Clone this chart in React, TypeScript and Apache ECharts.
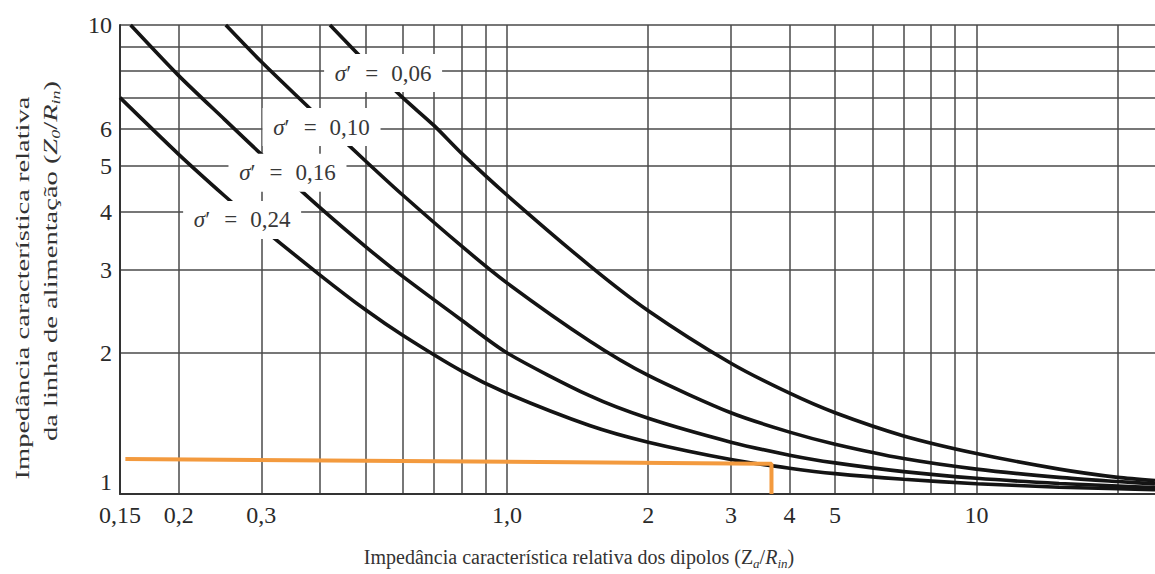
import React, { useEffect, useRef } from "react";
import * as echarts from "echarts";

// ---- data ----
const s06X = [0.42, 0.5, 0.6, 0.7, 0.8, 1, 1.5, 2, 3, 4, 5, 7, 10, 15, 20, 24];
const s06Y = [10, 8.35, 7.0, 6.1, 5.33, 4.34, 3.07, 2.46, 1.9, 1.64, 1.49, 1.33, 1.22, 1.13, 1.085, 1.068];

const s10X = [0.252, 0.3, 0.4, 0.5, 0.6, 0.8, 1, 1.5, 2, 3, 4, 5, 7, 10, 15, 20, 24];
const s10Y = [10, 8.35, 6.33, 5.13, 4.34, 3.38, 2.82, 2.12, 1.79, 1.49, 1.355, 1.277, 1.19, 1.13, 1.085, 1.063, 1.051];

const s16X = [0.158, 0.2, 0.25, 0.3, 0.4, 0.5, 0.6, 0.8, 1, 1.5, 2, 3, 4, 5, 7, 10, 15, 20, 24];
const s16Y = [10, 7.8, 6.3, 5.3, 4.08, 3.37, 2.91, 2.35, 2.0, 1.62, 1.45, 1.29, 1.21, 1.165, 1.116, 1.08, 1.053, 1.04, 1.032];

const s24X = [0.15, 0.2, 0.25, 0.3, 0.4, 0.5, 0.6, 0.8, 1, 1.5, 2, 3, 4, 5, 7, 10, 15, 20, 24];
const s24Y = [7.0, 5.3, 4.33, 3.7, 2.93, 2.47, 2.18, 1.83, 1.64, 1.4, 1.29, 1.185, 1.135, 1.105, 1.075, 1.052, 1.034, 1.026, 1.021];

const curveLabels = ["0,06", "0,10", "0,16", "0,24"];
const curveLabelX = [0.545, 0.403, 0.341, 0.273];
const curveLabelY = [7.9, 6.06, 4.84, 3.84];

const orangeX = [0.154, 3.66, 3.66];
const orangeY = [1.188, 1.16, 1.0];

const xTickValues = [0.15, 0.2, 0.3, 1, 2, 3, 4, 5, 10];
const xTickLabels = ["0,15", "0,2", "0,3", "1,0", "2", "3", "4", "5", "10"];
const xGridValues = [0.2, 0.3, 0.4, 0.5, 0.6, 0.7, 0.8, 0.9, 1, 2, 3, 4, 5, 6, 7, 8, 9, 10, 20];

const yTickValues = [1, 2, 3, 4, 5, 6, 10];
const yTickLabels = ["1", "2", "3", "4", "5", "6", "10"];
const yGridValues = [2, 3, 4, 5, 6, 7, 8, 9, 10];

const xMin = 0.15;
const xMax = 24;
const yMin = 1;
const yMax = 10;

const FONT = "'Liberation Serif', 'DejaVu Serif', serif";

function zip(xs: number[], ys: number[]) {
  return xs.map((x, i) => [x, ys[i]]);
}

export default function App() {
  const ref = useRef<HTMLDivElement>(null);

  useEffect(() => {
    if (!ref.current) return;
    const chart = echarts.init(ref.current, undefined, { renderer: "svg" });

    const curveStyle = { color: "#141414", width: 3.6 };
    const curves = [
      zip(s06X, s06Y),
      zip(s10X, s10Y),
      zip(s16X, s16Y),
      zip(s24X, s24Y),
    ].map((d, i) => ({
      type: "line",
      name: "σ′ = " + curveLabels[i],
      data: d,
      showSymbol: false,
      symbol: "none",
      smooth: 0.25,
      lineStyle: curveStyle,
      silent: true,
      z: 3,
    }));

    const txt = { fontFamily: FONT, fill: "#333" };
    const lbl = { fontFamily: FONT, fontSize: 23, color: "#383838" };

    const option: any = {
      animation: false,
      backgroundColor: "#ffffff",
      grid: {
        left: 120,
        right: 0,
        top: 25,
        bottom: 80,
        containLabel: false,
        outerBoundsMode: "none",
      },
      xAxis: {
        type: "log",
        logBase: 10,
        min: xMin,
        max: xMax,
        axisLine: { show: true, onZero: false, lineStyle: { color: "#333", width: 2 } },
        axisTick: { show: false, customValues: xGridValues },
        splitLine: { show: true, lineStyle: { color: "#4a4a4a", width: 1.5 } },
        minorSplitLine: { show: false },
        axisLabel: {
          customValues: xTickValues,
          formatter: (v: number) => {
            const i = xTickValues.findIndex((t) => Math.abs(t - v) < 1e-6);
            return i >= 0 ? xTickLabels[i] : "";
          },
          fontFamily: FONT,
          fontSize: 24,
          color: "#2a2a2a",
          margin: 9,
          showMinLabel: true,
          showMaxLabel: true,
          hideOverlap: false,
        },
      },
      yAxis: {
        type: "log",
        logBase: 10,
        min: yMin,
        max: yMax,
        axisLine: { show: true, onZero: false, lineStyle: { color: "#333", width: 2 } },
        axisTick: { show: false, customValues: yGridValues },
        splitLine: { show: true, lineStyle: { color: "#4a4a4a", width: 1.5 } },
        minorSplitLine: { show: false },
        axisLabel: {
          customValues: yTickValues,
          formatter: (v: number) => {
            const i = yTickValues.findIndex((t) => Math.abs(t - v) < 1e-6);
            if (i < 0) return "";
            return i === 0 ? "{up|" + yTickLabels[i] + "}" : yTickLabels[i];
          },
          rich: {
            up: { fontFamily: FONT, fontSize: 24, color: "#2a2a2a", padding: [0, 0, 24, 0] },
          },
          fontFamily: FONT,
          fontSize: 24,
          color: "#2a2a2a",
          margin: 8,
          showMinLabel: true,
          showMaxLabel: true,
          hideOverlap: false,
        },
      },
      series: [
        ...curves,
        {
          type: "line",
          name: "leitura",
          data: zip(orangeX, orangeY),
          showSymbol: false,
          symbol: "none",
          lineStyle: { color: "#F39A3E", width: 4 },
          silent: true,
          z: 12,
        },
        {
          type: "scatter",
          name: "rótulos",
          data: curveLabelX.map((x, i) => [x, curveLabelY[i], curveLabels[i]]),
          symbol: "rect",
          symbolSize: [118, 38],
          itemStyle: { color: "#ffffff", opacity: 1 },
          silent: true,
          z: 10,
          label: {
            show: true,
            position: "inside",
            formatter: (p: any) => "{s|σ}{n|′}{e|=}{n|" + p.data[2] + "}",
            ...lbl,
            rich: {
              s: { ...lbl, fontStyle: "italic" },
              n: { ...lbl },
              e: { ...lbl, padding: [0, 13, 0, 14] },
            },
          },
        },
      ],
      graphic: [
        {
          type: "text",
          x: 22,
          y: 288,
          rotation: Math.PI / 2,
          scaleX: 1.5,
          silent: true,
          style: {
            text: "{n|Impedância característica relativa}",
            fontFamily: FONT,
            fontSize: 19,
            fill: "#333",
            align: "center",
            verticalAlign: "middle",
            rich: {
              n: { ...txt, fontSize: 19 },
            },
          },
        },
        {
          type: "text",
          x: 50,
          y: 261,
          rotation: Math.PI / 2,
          scaleX: 1.5,
          silent: true,
          style: {
            text: "{n|da linha de alimentação (}{i|Z}{sb|0}{n|/}{i|R}{sb|in}{n|)}",
            fontFamily: FONT,
            fontSize: 19,
            fill: "#333",
            align: "center",
            verticalAlign: "middle",
            rich: {
              n: { ...txt, fontSize: 19 },
              i: { ...txt, fontSize: 19, fontStyle: "italic" },
              sb: { ...txt, fontSize: 12, fontStyle: "italic", verticalAlign: "bottom", padding: [12, 0, 0, 0] },
            },
          },
        },
        {
          type: "text",
          x: 579,
          y: 557,
          silent: true,
          style: {
            text: "{n|Impedância característica relativa dos dipolos (Z}{sb|a}{n|/}{i|R}{sb|in}{n|)}",
            fontFamily: FONT,
            fontSize: 20,
            fill: "#333",
            align: "center",
            verticalAlign: "middle",
            rich: {
              n: { ...txt, fontSize: 20 },
              i: { ...txt, fontSize: 20, fontStyle: "italic" },
              sb: { ...txt, fontSize: 13, fontStyle: "italic", verticalAlign: "bottom", padding: [12, 0, 0, 0] },
            },
          },
        },
      ],
    };

    chart.setOption(option);
    return () => chart.dispose();
  }, []);

  return (
    <div
      ref={ref}
      style={{ position: "fixed", left: 0, top: 0, width: 1155, height: 574, background: "#fff" }}
    />
  );
}
